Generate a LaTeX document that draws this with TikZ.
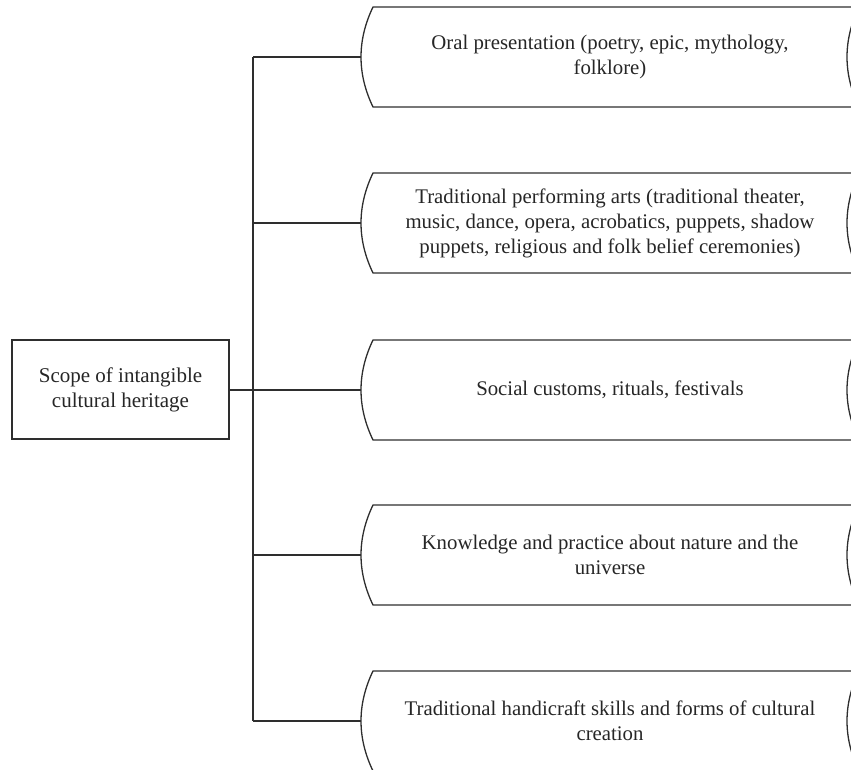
\documentclass[tikz,border=0pt]{standalone}
\usepackage{fontspec}
\setmainfont{Liberation Serif}
\definecolor{ink}{HTML}{2E2E2E}
\definecolor{txt}{HTML}{262626}

% Flowchart "stored data" outline with its label
% #1 name, #2 centre y, #3 label
\newcommand\scrollbox[3]{%
  \coordinate (#1-in) at (361,#2);
  \draw[shapeline] (373,#2-50) -- (859,#2-50)
    .. controls (843,#2-16.7) and (843,#2+16.7) .. (859,#2+50)
    -- (373,#2+50)
    .. controls (357,#2+16.7) and (357,#2-16.7) .. (373,#2-50) -- cycle;
  \node[itemtext] (#1) at (610,#2) {#3};
}

\begin{document}
\begin{tikzpicture}[x=1pt,y=-1pt,
  shapeline/.style={draw=ink,line width=1.3pt},
  link/.style={draw=ink,line width=1.3pt},
  itemtext/.style={align=center,text=txt,inner sep=0pt,
    font=\fontsize{20.8}{25}\selectfont},
  rootbox/.style={draw=ink,line width=1.3pt,align=center,text=txt,
    minimum width=217pt,minimum height=99pt,inner sep=0pt,
    font=\fontsize{21}{25}\selectfont}]
\useasboundingbox (0,0) rectangle (851,769);
\clip (0,0) rectangle (851,769);

\node[rootbox] (root) at (120.5,389.5) {Scope of intangible\\cultural heritage};

\scrollbox{b1}{57}{Oral presentation (poetry, epic, mythology,\\folklore)}
\scrollbox{b2}{223}{Traditional performing arts (traditional theater,\\music, dance, opera, acrobatics, puppets, shadow\\puppets, religious and folk belief ceremonies)}
\scrollbox{b3}{390}{Social customs, rituals, festivals}
\scrollbox{b4}{555}{Knowledge and practice about nature and the\\universe}
\scrollbox{b5}{721}{Traditional handicraft skills and forms of cultural\\creation}

% trunk and branches
\coordinate (t1) at (253,57);
\coordinate (t2) at (253,223);
\coordinate (t3) at (253,390);
\coordinate (t4) at (253,555);
\coordinate (t5) at (253,721);
\draw[link] (t1) -- (t5);
\draw[link] (root.east |- t3) -- (t3);
\foreach \k in {1,...,5} {\draw[link] (t\k) -- (b\k-in);}
\end{tikzpicture}
\end{document}
